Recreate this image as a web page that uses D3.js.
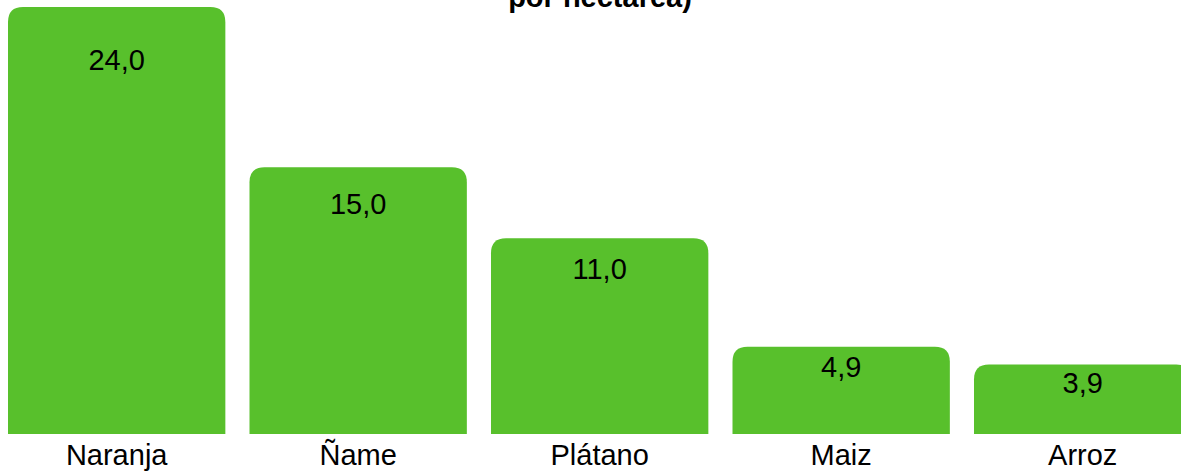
<!DOCTYPE html>
<html>
<head>
<meta charset="utf-8">
<script src="https://cdn.jsdelivr.net/npm/d3@7"></script>
<style>
  html, body { margin: 0; padding: 0; background: #fff; overflow: hidden; }
  svg { display: block; }
</style>
</head>
<body>
<script>
const categories = ["Naranja", "Ñame", "Plátano", "Maiz", "Arroz"];
const values = [24.0, 15.0, 11.0, 4.9, 3.9];
const titleText = "por hectárea)";

const W = 1181, H = 474;
const baseY = 434;
const color = "#58C02C";
const font = "'Liberation Sans', Arial, Helvetica, sans-serif";

const svg = d3.select("body").append("svg").attr("width", W).attr("height", H);

const x = d3.scaleBand()
  .domain(categories)
  .range([-4.075, 1203.425])
  .paddingInner(0.1)
  .paddingOuter(0.05);

const y = d3.scaleLinear().domain([0, 24]).range([baseY, 7]);

const r = 15;
function barPath(x0, w, top, bottom) {
  const rr = Math.min(r, (bottom - top), w / 2);
  return `M${x0},${bottom}V${top + rr}Q${x0},${top} ${x0 + rr},${top}H${x0 + w - rr}Q${x0 + w},${top} ${x0 + w},${top + rr}V${bottom}Z`;
}

const data = categories.map((c, i) => ({ c, v: values[i] }));

svg.selectAll("path.bar").data(data).enter().append("path")
  .attr("class", "bar")
  .attr("fill", color)
  .attr("d", d => barPath(x(d.c), x.bandwidth(), y(d.v), baseY));

svg.selectAll("text.val").data(data).enter().append("text")
  .attr("class", "val")
  .attr("x", d => x(d.c) + x.bandwidth() / 2)
  .attr("y", d => { const h = baseY - y(d.v); return y(d.v) + 22 + 0.095 * h; })
  .attr("text-anchor", "middle")
  .attr("font-family", font)
  .attr("font-size", 29)
  .attr("fill", "#000")
  .text(d => d3.format(".1f")(d.v).replace(".", ","));

const xAxis = d3.axisBottom(x).tickSize(0).tickPadding(0);
const gx = svg.append("g").attr("transform", `translate(0,${baseY})`).call(xAxis);
gx.select(".domain").remove();
gx.selectAll("text")
  .attr("y", 31)
  .attr("dy", 0)
  .attr("font-family", font)
  .attr("font-size", 29)
  .attr("fill", "#000");

svg.append("text")
  .attr("x", 600)
  .attr("y", 7)
  .attr("text-anchor", "middle")
  .attr("font-family", font)
  .attr("font-weight", "bold")
  .attr("font-size", 29)
  .attr("fill", "#000")
  .text(titleText);
</script>
</body>
</html>
